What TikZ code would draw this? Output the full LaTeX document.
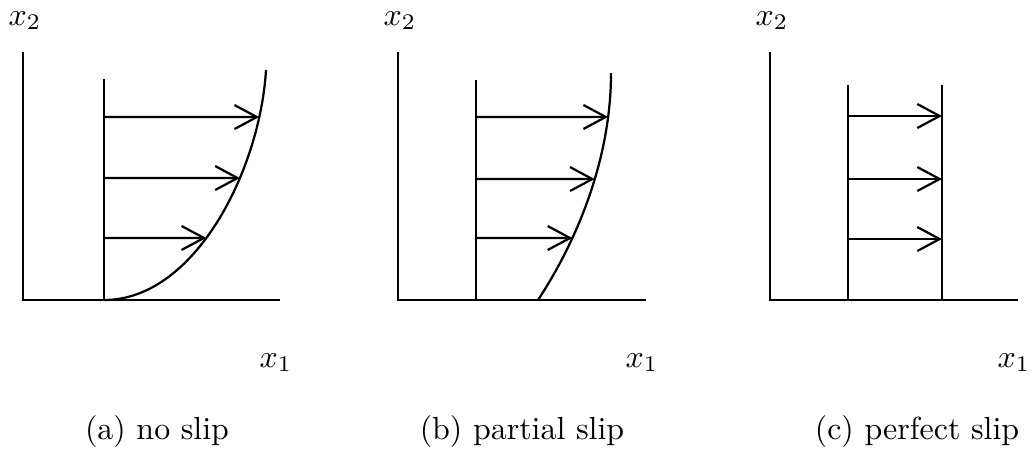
\documentclass[tikz,border=0pt]{standalone}
\usetikzlibrary{arrows.meta,calc,intersections}
\tikzset{
  >={Straight Barb[length=7pt,width=7.5pt]},
  ax/.style={line width=0.8pt},
  wall/.style={line width=0.8pt},
  prof/.style={line width=0.7pt},
  vel/.style={->,line width=0.7pt},
  lbl/.style={anchor=base,inner sep=0pt},
  capt/.style={anchor=base,inner sep=0pt},
}
% axes of one panel: name, corner x, end of x_1 axis
\newcommand{\pax}[3]{%
  \coordinate (#1-o) at (#2,300);
  \coordinate (#1-t) at (#2,52);
  \coordinate (#1-r) at (#3,300);
  \draw[ax] (#1-t) -- (#1-o) -- (#1-r);
  \node[lbl] (#1-x2) at ($(#1-t)+(2,-27)$) {$x_2$};
  \node[lbl] (#1-x1) at ($(#1-r)+(-4,67)$) {$x_1$};}

\begin{document}
\begin{tikzpicture}[x=0.011cm,y=-0.011cm]
  \useasboundingbox (0,0) rectangle (1035,452);
  % (a) no slip
  \pax{A}{23}{280}
  \coordinate (A-w0) at (104,300); \coordinate (A-w1) at (104,79);
  \draw[wall] (A-w1) -- (A-w0);
  \draw[prof,name path=A-p] (A-w0) .. controls (195,300) and (260,170) .. (266,70);
  \foreach \y [count=\k] in {117,178,238} {
    \coordinate (A-s\k) at (104,\y);
    \path[name path=A-h\k] (A-s\k) -- ++(200,0);
    \draw[vel,name intersections={of=A-p and A-h\k,by=A-v\k}] (A-s\k) -- (A-v\k);}
  \node[capt] (A-cap) at (157,439) {(a) no slip};
  % (b) partial slip
  \pax{B}{398}{646}
  \coordinate (B-w0) at (476,300); \coordinate (B-w1) at (476,80);
  \draw[wall] (B-w1) -- (B-w0);
  \draw[prof,name path=B-p] (538,300) .. controls (580,236) and (611,155) .. (611,73);
  \foreach \y [count=\k] in {117,179,238} {
    \coordinate (B-s\k) at (476,\y);
    \path[name path=B-h\k] (B-s\k) -- ++(200,0);
    \draw[vel,name intersections={of=B-p and B-h\k,by=B-v\k}] (B-s\k) -- (B-v\k);}
  \node[capt] (B-cap) at (522,439) {(b) partial slip};
  % (c) perfect slip
  \pax{C}{770}{1018}
  \coordinate (C-w0) at (848,300); \coordinate (C-w1) at (848,85);
  \coordinate (C-u0) at (942,300); \coordinate (C-u1) at (942,85);
  \draw[wall] (C-w1) -- (C-w0);
  \draw[prof] (C-u1) -- (C-u0);
  \foreach \y [count=\k] in {116,179,239} {
    \coordinate (C-s\k) at (848,\y); \coordinate (C-v\k) at (942,\y);
    \draw[vel] (C-s\k) -- (C-v\k);}
  \node[capt] (C-cap) at (917,439) {(c) perfect slip};
\end{tikzpicture}
\end{document}
